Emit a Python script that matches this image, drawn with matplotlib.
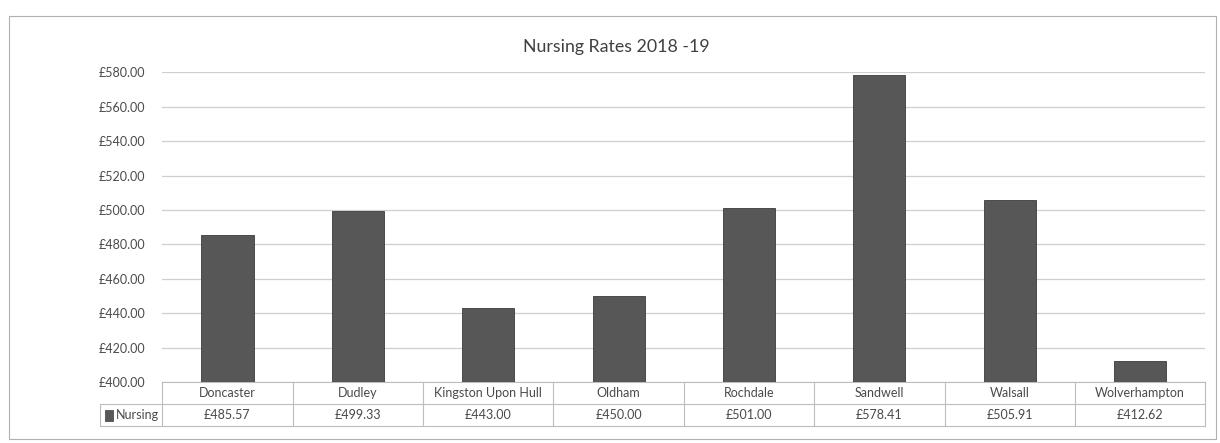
import matplotlib.pyplot as plt
from matplotlib.patches import Rectangle
from matplotlib.ticker import FuncFormatter

# nursing rates per authority, 2018-19
authorities = ["Doncaster", "Dudley", "Kingston Upon Hull", "Oldham",
               "Rochdale", "Sandwell", "Walsall", "Wolverhampton"]
nursing = [485.57, 499.33, 443.00, 450.00, 501.00, 578.41, 505.91, 412.62]
series_name = "Nursing"
y_ticks = [400, 420, 440, 460, 480, 500, 520, 540, 560, 580]

plt.rcParams['font.family'] = ['Lato', 'DejaVu Sans']
text_col = '#4a4a4a'
bar_col = '#575757'
grid_col = '#cfcfcf'
line_col = '#bdbdbd'

fig = plt.figure(figsize=(12.2, 4.43), dpi=100)
ax = fig.add_axes([0.133, 0.137, 0.855, 0.700])

x = range(len(authorities))
ax.bar(x, [v - y_ticks[0] for v in nursing], bottom=y_ticks[0], width=0.4,
       color=bar_col, edgecolor='#3c3c3c', linewidth=0.6, zorder=3)

ax.set_xlim(-0.5, len(authorities) - 0.5)
ax.set_ylim(y_ticks[0], y_ticks[-1])
ax.set_yticks(y_ticks)
ax.yaxis.set_major_formatter(FuncFormatter(lambda v, p: f"£{v:.2f}"))
ax.tick_params(axis='y', length=0, pad=12, labelsize=9, labelcolor=text_col)
ax.set_xticks([])
ax.grid(axis='y', color=grid_col, linewidth=0.9)
for s in ax.spines.values():
    s.set_visible(False)

# data table under the plot, Excel style (axes coordinates)
n = len(authorities)
row_h = 0.071
label_w = 0.06
tr = ax.transAxes
kw = dict(transform=tr, color=line_col, lw=0.8, clip_on=False)
ax.plot([0, 1], [0, 0], **kw)
for yy in (-row_h, -2 * row_h):
    ax.plot([-label_w, 1], [yy, yy], **kw)
for i in range(n + 1):
    ax.plot([i / n, i / n], [0, -2 * row_h], **kw)
ax.plot([-label_w, -label_w], [-row_h, -2 * row_h], **kw)

for i, (name, val) in enumerate(zip(authorities, nursing)):
    xc = (i + 0.5) / n
    ax.text(xc, -0.5 * row_h, name, transform=tr, ha='center', va='center',
            fontsize=9, color=text_col)
    ax.text(xc, -1.5 * row_h, f"£{val:.2f}", transform=tr, ha='center',
            va='center', fontsize=9, color=text_col)

# legend key inside the row header cell
ax.add_patch(Rectangle((-label_w + 0.005, -1.5 * row_h - 0.018), 0.0075, 0.036,
                       transform=tr, facecolor=bar_col, edgecolor='#3c3c3c',
                       lw=0.5, clip_on=False))
ax.text(-label_w + 0.016, -1.5 * row_h, series_name, transform=tr,
        ha='left', va='center', fontsize=9, color=text_col)

fig.text(0.505, 0.895, "Nursing Rates 2018 -19", fontsize=12.8,
         color='#404040', ha='center', va='center')

fig.patches.append(Rectangle((0.007, 0.01), 0.99, 0.955, transform=fig.transFigure,
                             fill=False, edgecolor='#b0b0b0', linewidth=0.8))

fig.savefig("out.png", dpi=100, facecolor='white')
